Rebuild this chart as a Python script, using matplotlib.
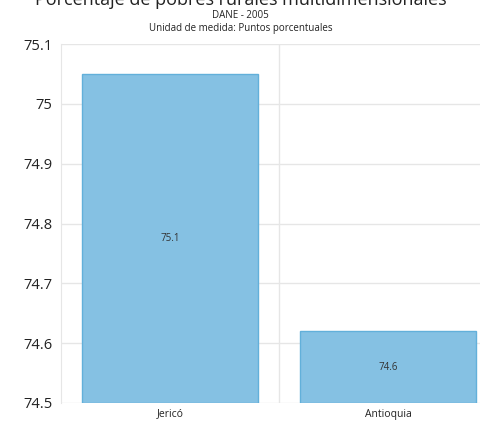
import matplotlib.pyplot as plt

plt.rcParams['font.family'] = ['Open Sans', 'DejaVu Sans']

categories = ['Jericó', 'Antioquia']
values = [75.05, 74.62]
labels = ['75.1', '74.6']
yticks = [74.5, 74.6, 74.7, 74.8, 74.9, 75.0, 75.1]
ytick_labels = ['74.5', '74.6', '74.7', '74.8', '74.9', '75', '75.1']

fig = plt.figure(figsize=(4.81, 4.25), dpi=100)
W, H = 481, 425
ax = fig.add_axes([61 / W, (H - 403) / H, 436 / W, 359 / H])

x = range(len(categories))
ax.bar(x, [v - 74.5 for v in values], bottom=74.5, width=0.81,
       color='#85c1e3', edgecolor='#62b0da', linewidth=1, zorder=3)
for i, (v, lab) in enumerate(zip(values, labels)):
    ax.text(i, (v + 74.5) / 2, lab, ha='center', va='center',
            fontsize=7, color='#333333', zorder=4)

ax.set_xlim(-0.5, 1.5)
ax.set_ylim(74.5, 75.1)
ax.set_yticks(yticks)
ax.set_yticklabels(ytick_labels, fontsize=10.5, color='#222222')
ax.set_xticks(list(x))
ax.set_xticklabels(categories, fontsize=7.5, color='#222222')
ax.set_xticks([0.5], minor=True)
ax.tick_params(axis='both', which='both', length=0, pad=6)
ax.tick_params(axis='x', pad=4)
ax.grid(axis='y', color='#e6e6e6', linewidth=1, zorder=0)
ax.grid(axis='x', which='minor', color='#e6e6e6', linewidth=1, zorder=0)
for side in ['top', 'right', 'bottom']:
    ax.spines[side].set_visible(False)
ax.spines['left'].set_color('#e6e6e6')

fig.text(0.5, 1 - 5 / H, 'Porcentaje de pobres rurales multidimensionales',
         ha='center', va='baseline', fontsize=13, color='#222222')
fig.text(0.5, 1 - 15 / H, 'DANE - 2005', ha='center', va='center',
         fontsize=7, color='#222222')
fig.text(0.5, 1 - 29 / H, 'Unidad de medida: Puntos porcentuales',
         ha='center', va='center', fontsize=7, color='#222222')

fig.savefig('out.png', dpi=100)
